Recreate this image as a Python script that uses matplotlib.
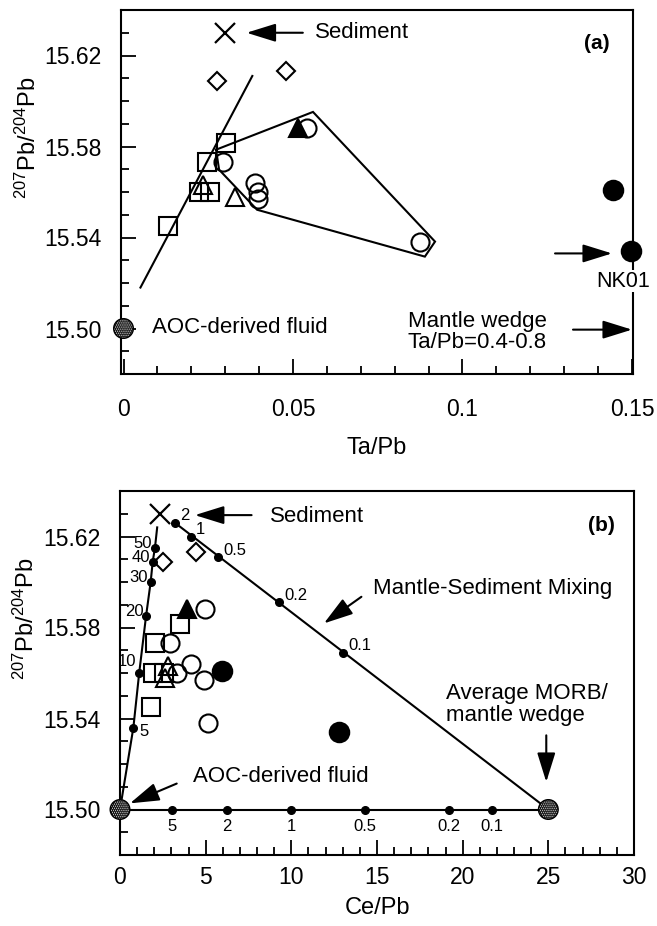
import matplotlib
matplotlib.use('Agg')
import matplotlib.pyplot as plt
from matplotlib.ticker import MultipleLocator, FuncFormatter, FixedLocator

plt.rcParams['font.family'] = ['Liberation Sans', 'DejaVu Sans']
plt.rcParams['mathtext.fontset'] = 'custom'
plt.rcParams['mathtext.rm'] = 'Liberation Sans'
plt.rcParams['mathtext.it'] = 'Liberation Sans:italic'
plt.rcParams['mathtext.bf'] = 'Liberation Sans:bold'
plt.rcParams['hatch.linewidth'] = 1.4

# ---------------- data ----------------
pb_circle = [15.588, 15.573, 15.564, 15.560, 15.557, 15.538]
ta_circle = [0.054, 0.0294, 0.0388, 0.0398, 0.0398, 0.0875]
ce_circle = [4.96, 2.92, 4.12, 3.30, 4.90, 5.15]

pb_filled = [15.561, 15.534]
ta_filled = [0.1445, 0.1496]
ce_filled = [5.93, 12.77]

pb_square = [15.545, 15.573, 15.5815, 15.560, 15.560]
ta_square = [0.0132, 0.0245, 0.0302, 0.0222, 0.0255]
ce_square = [1.79, 2.04, 3.50, 1.95, 2.55]

pb_tri = [15.563, 15.558]
ta_tri = [0.0235, 0.0329]
ce_tri = [2.82, 2.60]

pb_ftri = [15.588]
ta_ftri = [0.0516]
ce_ftri = [3.89]

pb_diam = [15.609, 15.613]
ta_diam = [0.0275, 0.048]
ce_diam = [2.52, 4.43]

pb_sed, ta_sed, ce_sed = 15.63, 0.030, 2.33
pb_aoc, ta_aoc, ce_aoc = 15.50, 0.0, 0.0
pb_morb, ce_morb = 15.50, 25.0

y_ticks = [15.50, 15.54, 15.58, 15.62]

# panel (a) trend line and outline polygon
trend_ta = [0.005, 0.038]
trend_pb = [15.518, 15.611]
poly_ta = [0.0273, 0.0559, 0.0919, 0.0889, 0.0394, 0.0282, 0.0273]
poly_pb = [15.5786, 15.5952, 15.5382, 15.5316, 15.5522, 15.5698, 15.5786]

# panel (b) mixing curves
ms_labels = ['2', '1', '0.5', '0.2', '0.1']          # mantle-sediment
ms_ce = [3.21, 4.12, 5.73, 9.28, 12.99]
ms_pb = [15.626, 15.620, 15.611, 15.591, 15.569]

as_labels = ['5', '10', '20', '30', '40', '50']      # AOC fluid-sediment
as_ce = [0.78, 1.12, 1.52, 1.79, 1.91, 2.04]
as_pb = [15.536, 15.560, 15.585, 15.600, 15.609, 15.615]
as_end_ce, as_end_pb = 2.17, 15.624

am_labels = ['5', '2', '1', '0.5', '0.2', '0.1']     # AOC fluid-mantle
am_ce = [3.01, 6.24, 10.0, 14.3, 19.2, 21.7]

# ---------------- figure ----------------
W, H = 657, 926
fig = plt.figure(figsize=(W / 100, H / 100), dpi=100)
axA = fig.add_axes([121 / W, 1 - 374 / H, 512 / W, 364 / H])
axB = fig.add_axes([120 / W, 1 - 855 / H, 514 / W, 364 / H])

LW = 1.5
FS_TICK = 16.5
FS_TXT = 16
FS_SMALL = 12
arrow = dict(arrowstyle='-|>,head_length=0.9,head_width=0.28', lw=1.5,
             color='k', shrinkA=0, shrinkB=0, mutation_scale=20)
stipple = dict(s=200, facecolor='#d0d0d0', edgecolor='k', hatch='........',
               lw=1.0, zorder=6, clip_on=False)


def symbols(ax, xc, xf, xs, xt, xft, xd, xsed):
    kw = dict(linestyle='none', markeredgewidth=1.5, markeredgecolor='k', zorder=5)
    ax.plot(xs, pb_square, marker='s', ms=13, markerfacecolor='none', **kw)
    ax.plot(xc, pb_circle, marker='o', ms=13, markerfacecolor='none', **kw)
    ax.plot(xt, pb_tri, marker='^', ms=13, markerfacecolor='none', **kw)
    ax.plot(xft, pb_ftri, marker='^', ms=13, markerfacecolor='k', **kw)
    ax.plot(xd, pb_diam, marker='D', ms=9, markerfacecolor='none', **kw)
    ax.plot(xf, pb_filled, marker='o', ms=14, markerfacecolor='k', clip_on=False, **kw)
    ax.plot([xsed], [pb_sed], marker='x', ms=14, markeredgewidth=1.6,
            color='k', linestyle='none', zorder=5)


def style(ax, xmaj, xmin, xfmt, xpad):
    for s in ax.spines.values():
        s.set_linewidth(1.5)
    ax.set_ylim(15.48, 15.64)
    ax.yaxis.set_major_locator(FixedLocator(y_ticks))
    ax.yaxis.set_minor_locator(MultipleLocator(0.01))
    ax.yaxis.set_major_formatter(FuncFormatter(lambda v, p: f'{v:.2f}'))
    ax.xaxis.set_major_locator(MultipleLocator(xmaj))
    ax.xaxis.set_minor_locator(MultipleLocator(xmin))
    ax.xaxis.set_major_formatter(FuncFormatter(xfmt))
    ax.tick_params(which='both', direction='in', width=1.3, top=False, right=False)
    ax.tick_params(which='major', length=11)
    ax.tick_params(which='minor', length=6)
    ax.tick_params(axis='y', which='major', pad=14, labelsize=FS_TICK)
    ax.tick_params(axis='x', which='major', pad=xpad, labelsize=FS_TICK)
    ax.set_ylabel(r'$^{207}$Pb/$^{204}$Pb', fontsize=17)
    ax.yaxis.set_label_coords(-0.157, 0.65)


# ---------------- panel (a) ----------------
style(axA, 0.05, 0.01, lambda v, p: f'{v:g}', 17)
axA.set_xlim(-0.00074, 0.1503)
axA.set_xlabel('Ta/Pb', fontsize=17, labelpad=12)

axA.plot(trend_ta, trend_pb, color='k', lw=LW, zorder=3)
axA.plot(poly_ta, poly_pb, color='k', lw=LW, zorder=3, solid_joinstyle='miter')
symbols(axA, ta_circle, ta_filled, ta_square, ta_tri, ta_ftri, ta_diam, ta_sed)
axA.scatter([ta_aoc], [pb_aoc], **stipple)

axA.annotate('', xy=(0.0363, 15.630), xytext=(0.0529, 15.630), arrowprops=arrow)
axA.text(0.0565, 15.630, 'Sediment', fontsize=FS_TXT, va='center', ha='left')
axA.text(0.1396, 15.6253, '(a)', fontsize=15, fontweight='bold', va='center', ha='center')
axA.annotate('', xy=(0.1441, 15.533), xytext=(0.1273, 15.533), arrowprops=arrow)
axA.text(0.1473, 15.5208, 'NK01', fontsize=15.5, va='center', ha='center',
         bbox=dict(facecolor='white', edgecolor='none', pad=0.5), zorder=7, clip_on=False)
axA.text(0.1043, 15.4985, 'Mantle wedge\nTa/Pb=0.4-0.8', fontsize=FS_TXT,
         va='center', ha='center', linespacing=1.05)
axA.annotate('', xy=(0.1500, 15.4995), xytext=(0.1326, 15.4995), arrowprops=arrow)
axA.text(0.0084, 15.5005, 'AOC-derived fluid', fontsize=FS_TXT, va='center', ha='left')

# ---------------- panel (b) ----------------
style(axB, 5, 1, lambda v, p: f'{v:g}', 8)
axB.set_xlim(0, 30)
axB.set_xlabel('Ce/Pb', fontsize=17, labelpad=6)

# mantle-sediment mixing line
axB.plot([ms_ce[0], ce_morb], [ms_pb[0], pb_morb], color='k', lw=LW, zorder=3)
axB.plot(ms_ce, ms_pb, 'o', color='k', ms=5.5, zorder=4)
for lab, x, y in zip(ms_labels, ms_ce, ms_pb):
    axB.annotate(lab, (x, y), xytext=(4, 5), textcoords='offset points',
                 fontsize=FS_SMALL, ha='left', va='center')

# AOC fluid - sediment mixing line
axB.plot([ce_aoc] + as_ce + [as_end_ce], [pb_aoc] + as_pb + [as_end_pb],
         color='k', lw=LW, zorder=3)
axB.plot(as_ce, as_pb, 'o', color='k', ms=5.5, zorder=4)
for lab, x, y in zip(as_labels, as_ce, as_pb):
    if lab == '5':
        axB.annotate(lab, (x, y), xytext=(4, -3), textcoords='offset points',
                     fontsize=FS_SMALL, ha='left', va='center')
    elif lab == '10':
        axB.annotate(lab, (x, y), xytext=(-2, 8), textcoords='offset points',
                     fontsize=FS_SMALL, ha='right', va='center')
    else:
        axB.annotate(lab, (x, y), xytext=(-2, 3), textcoords='offset points',
                     fontsize=FS_SMALL, ha='right', va='center')

# AOC fluid - mantle mixing line
axB.plot([ce_aoc, ce_morb], [pb_aoc, pb_morb], color='k', lw=LW, zorder=3)
axB.plot(am_ce, [pb_aoc] * len(am_ce), 'o', color='k', ms=5.5, zorder=4)
for lab, x in zip(am_labels, am_ce):
    axB.annotate(lab, (x, pb_aoc), xytext=(0, -12), textcoords='offset points',
                 fontsize=FS_SMALL, ha='center', va='center')

symbols(axB, ce_circle, ce_filled, ce_square, ce_tri, ce_ftri, ce_diam, ce_sed)
axB.scatter([ce_aoc, ce_morb], [pb_aoc, pb_morb], **stipple)

axB.annotate('', xy=(4.37, 15.6294), xytext=(7.68, 15.6294), arrowprops=arrow)
axB.text(8.75, 15.629, 'Sediment', fontsize=FS_TXT, va='center', ha='left')
axB.text(28.09, 15.625, '(b)', fontsize=15, fontweight='bold', va='center', ha='center')
axB.text(14.77, 15.597, 'Mantle-Sediment Mixing', fontsize=FS_TXT, va='center', ha='left')
axB.annotate('', xy=(11.9, 15.5818), xytext=(14.09, 15.5935), arrowprops=arrow)
axB.text(19.05, 15.546, 'Average MORB/\nmantle wedge', fontsize=FS_TXT,
         va='center', ha='left', linespacing=1.05)
axB.annotate('', xy=(24.88, 15.5121), xytext=(24.88, 15.5326), arrowprops=arrow)
axB.text(4.27, 15.5143, 'AOC-derived fluid', fontsize=FS_TXT, va='center', ha='left')
axB.annotate('', xy=(0.58, 15.5027), xytext=(3.31, 15.5114), arrowprops=arrow)

fig.savefig('out.png', dpi=100)
